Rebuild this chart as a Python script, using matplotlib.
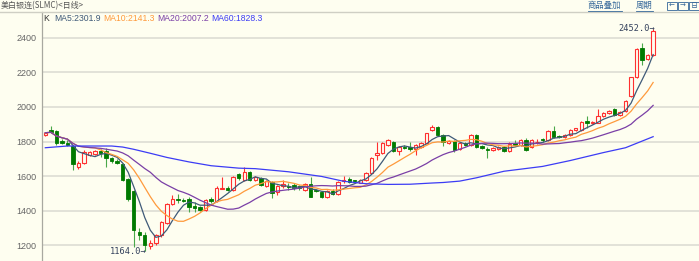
import matplotlib
matplotlib.use('Agg')
import matplotlib.pyplot as plt
from matplotlib.lines import Line2D
from matplotlib.patches import Rectangle
import numpy as np
import pandas as pd

# daily OHLC
opens = [1836, 1866, 1862, 1805, 1793, 1776, 1650, 1674, 1722, 1728,
         1745, 1745, 1706, 1690, 1672, 1583, 1514, 1278, 1260, 1195,
         1212, 1260, 1330, 1440, 1470, 1462, 1470, 1428, 1419, 1405,
         1468, 1457, 1528, 1534, 1517, 1610, 1577, 1626, 1578, 1587,
         1543, 1568, 1510, 1543, 1543, 1548, 1543, 1520, 1554, 1518,
         1510, 1481, 1514, 1495, 1572, 1582, 1575, 1562, 1577, 1616,
         1722, 1735, 1780, 1800, 1745, 1770, 1770, 1755, 1770, 1789,
         1866, 1886, 1837, 1790, 1803, 1755, 1789, 1780, 1837, 1774,
         1757, 1751, 1755, 1770, 1747, 1790, 1780, 1808, 1770, 1798,
         1812, 1808, 1860, 1834, 1828, 1837, 1866, 1866, 1918, 1908,
         1909, 1947, 1963, 1986, 1953, 1978, 2063, 2175, 2338, 2280,
         2300]
highs = [1857, 1891, 1868, 1812, 1806, 1780, 1685, 1752, 1746, 1750,
         1755, 1760, 1712, 1698, 1676, 1588, 1520, 1300, 1275, 1230,
         1265, 1338, 1445, 1490, 1498, 1475, 1480, 1452, 1425, 1466,
         1478, 1540, 1593, 1545, 1598, 1620, 1654, 1632, 1600, 1595,
         1580, 1572, 1550, 1580, 1560, 1560, 1550, 1560, 1593, 1525,
         1515, 1520, 1525, 1572, 1600, 1595, 1580, 1585, 1625, 1712,
         1799, 1795, 1812, 1805, 1775, 1780, 1799, 1785, 1795, 1850,
         1895, 1890, 1841, 1810, 1808, 1798, 1795, 1842, 1842, 1778,
         1770, 1770, 1775, 1775, 1795, 1810, 1815, 1818, 1812, 1815,
         1820, 1865, 1889, 1840, 1842, 1870, 1880, 1918, 1947, 1920,
         1986, 1968, 1982, 1995, 1978, 2040, 2175, 2340, 2367, 2305,
         2452]
lows = [1832, 1851, 1780, 1785, 1772, 1636, 1640, 1670, 1718, 1724,
        1712, 1655, 1678, 1668, 1572, 1458, 1190, 1230, 1164, 1180,
        1200, 1250, 1322, 1432, 1444, 1450, 1395, 1394, 1398, 1400,
        1445, 1452, 1524, 1515, 1512, 1580, 1572, 1570, 1570, 1540,
        1535, 1471, 1488, 1530, 1520, 1520, 1522, 1515, 1478, 1508,
        1475, 1475, 1490, 1490, 1562, 1560, 1560, 1558, 1572, 1612,
        1693, 1730, 1775, 1740, 1722, 1755, 1745, 1722, 1765, 1785,
        1860, 1830, 1775, 1785, 1740, 1750, 1775, 1775, 1765, 1755,
        1703, 1745, 1750, 1740, 1742, 1775, 1775, 1745, 1765, 1785,
        1800, 1805, 1818, 1818, 1822, 1832, 1860, 1862, 1876, 1900,
        1905, 1940, 1958, 1948, 1945, 1972, 2058, 2170, 2242, 2270,
        2295]
closes = [1851, 1855, 1790, 1792, 1781, 1668, 1673, 1737, 1740, 1745,
          1733, 1703, 1685, 1676, 1580, 1465, 1290, 1262, 1203, 1215,
          1258, 1332, 1438, 1470, 1459, 1458, 1424, 1414, 1403, 1460,
          1454, 1532, 1530, 1521, 1592, 1590, 1626, 1577, 1593, 1548,
          1572, 1504, 1543, 1553, 1535, 1530, 1530, 1552, 1481, 1515,
          1481, 1514, 1495, 1568, 1580, 1568, 1570, 1577, 1620, 1706,
          1731, 1789, 1808, 1745, 1770, 1760, 1755, 1780, 1790, 1847,
          1886, 1837, 1799, 1803, 1751, 1793, 1780, 1837, 1770, 1760,
          1753, 1764, 1770, 1745, 1783, 1780, 1808, 1751, 1808, 1800,
          1806, 1860, 1824, 1824, 1837, 1866, 1876, 1914, 1905, 1914,
          1947, 1963, 1976, 1953, 1972, 2036, 2171, 2333, 2271, 2300,
          2440]

# MA60 (its history starts before the visible window)
ma60_idx = [0, 4, 12, 14, 16, 19, 22, 26, 30, 35, 38, 44, 50, 54, 58, 62,
            66, 70, 72, 75, 78, 83, 90, 95, 101, 105, 110]
ma60_val = [1764, 1774, 1774, 1768, 1755, 1732, 1708, 1682, 1660, 1646,
            1643, 1625, 1598, 1570, 1556, 1552, 1553, 1560, 1563, 1571,
            1590, 1628, 1656, 1690, 1736, 1764, 1828]

title = '美白银连(SLMC)<日线>'
ma_labels = ['MA5:2301.9', 'MA10:2141.3', 'MA20:2007.2', 'MA60:1828.3']
ma_colors = ['#3f5a78', '#ff9a3c', '#7a3fa6', '#3c3cf5']
yticks = [1200, 1400, 1600, 1800, 2000, 2200, 2400]

BG = '#fefef0'
W, H = 699, 261
plt.rcParams['font.family'] = ['Liberation Sans', 'Noto Sans CJK SC']

fig = plt.figure(figsize=(W / 100, H / 100), dpi=100, facecolor=BG)
ax = fig.add_axes([42 / W, 0, 1 - 42 / W, 1 - 12 / H])
ax.set_facecolor(BG)

o = np.array(opens, float)
h = np.array(highs, float)
l = np.array(lows, float)
c = np.array(closes, float)
x = np.arange(len(c))
up = c >= o

# wicks
ax.vlines(x[up], l[up], h[up], color='#ff3030', lw=0.8, zorder=2)
ax.vlines(x[~up], l[~up], h[~up], color='#4aa84a', lw=0.8, zorder=2)
# bodies
bw = 0.62
ax.bar(x[up], c[up] - o[up], bottom=o[up], width=bw, facecolor=BG,
       edgecolor='#ff3030', lw=0.8, zorder=3)
ax.bar(x[~up], o[~up] - c[~up], bottom=c[~up], width=bw, facecolor='#007a00',
       edgecolor='#007a00', lw=0.6, zorder=3)

# moving averages
s = pd.Series(c)
for n, col in zip([5, 10, 20], ma_colors[:3]):
    ax.plot(x, s.rolling(n, min_periods=1).mean(), color=col, lw=0.9, zorder=4)
ax.plot(ma60_idx, ma60_val, color=ma_colors[3], lw=0.9, zorder=4)

# extreme markers
ih, il = int(np.argmax(h)), int(np.argmin(l))
mono = dict(family='DejaVu Sans Mono', fontsize=6.2, color='#33415c')
ax.text(ih + 0.3, h[ih], f'{h[ih]:.1f}\u2192', ha='right', va='center', **mono)
ax.text(il + 0.3, l[il], f'{l[il]:.1f}\u2192', ha='right', va='center', **mono)

ax.set_xlim(-0.6, 118.3)
ax.set_ylim(1109, 2549)
ax.set_xticks([])
ax.set_yticks(yticks)
ax.tick_params(axis='y', length=0, pad=4, labelsize=6.5, labelcolor='#666666')
ax.grid(axis='y', color='#e0e0d6', lw=1.3)
ax.set_axisbelow(True)
for side in ['top', 'right', 'bottom']:
    ax.spines[side].set_visible(False)
ax.spines['left'].set_color('#a8a8a0')
ax.spines['left'].set_linewidth(0.9)

# header
fig.add_artist(Line2D([0, 1], [1 - 12 / H] * 2, color='#cfcfc4', lw=1,
                      transform=fig.transFigure))
fig.text(0.5 / W, 1 - 6 / H, title, family=['Noto Sans CJK SC'], fontsize=5.8,
         color='#555555', va='center')

def px(xp, yp):
    return xp / W, 1 - yp / H

fig.text(*px(43.5, 18.5), 'K', fontsize=6.2, color='#333333', va='center')
for xp, lab, col in zip([54, 103, 157, 211], ma_labels, ma_colors):
    fig.text(*px(xp, 18.5), lab, fontsize=6.2, color=col, va='center')

link = dict(family=['Noto Sans CJK SC'], fontsize=6, color='#336699', va='center')
for xp, w, lab in [(588, 34, '商品叠加'), (636, 17, '周期')]:
    fig.text(*px(xp, 5.5), lab, **link)
    fig.add_artist(Line2D([xp / W, (xp + w) / W], [1 - 10.5 / H] * 2,
                          color='#336699', lw=0.6, transform=fig.transFigure))
for xp, lab in [(667, '\u2190'), (678, '\u2192'), (689, '日')]:
    fig.add_artist(Rectangle(px(xp, 10), 10 / W, 8 / H, fill=False,
                             edgecolor='#336699', lw=0.6,
                             transform=fig.transFigure))
    fig.text(*px(xp + 5, 6), lab, family=['DejaVu Sans', 'Noto Sans CJK SC'],
             fontsize=5, color='#336699', ha='center', va='center')

fig.savefig('out.png', dpi=100, facecolor=BG)
